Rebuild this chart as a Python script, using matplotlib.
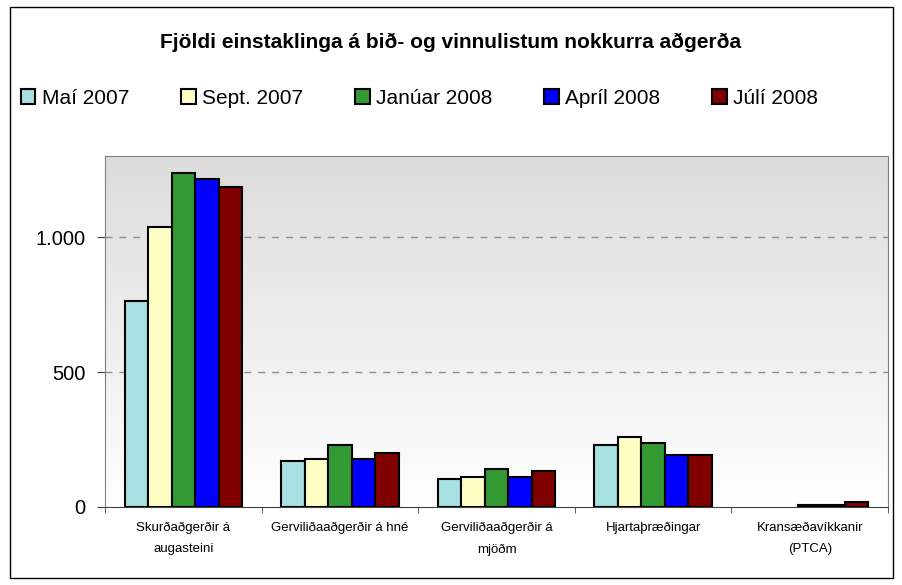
import matplotlib
matplotlib.use('Agg')
import matplotlib.pyplot as plt
import matplotlib.patches as patches
import numpy as np

plt.rcParams['font.family'] = ['Liberation Sans', 'DejaVu Sans']

# Gögn
flokkar = ['Skurðaðgerðir á\naugasteini', 'Gerviliðaaðgerðir á hné',
           'Gerviliðaaðgerðir á\nmjöðm', 'Hjartaþræðingar',
           'Kransæðavíkkanir\n(PTCA)']
timabil = ['Maí 2007', 'Sept. 2007', 'Janúar 2008', 'Apríl 2008', 'Júlí 2008']
mai_2007 = [763, 170, 104, 230, np.nan]
sept_2007 = [1038, 178, 111, 261, np.nan]
jan_2008 = [1238, 230, 141, 237, 7]
apr_2008 = [1215, 178, 111, 194, 7]
jul_2008 = [1186, 200, 133, 194, 17]
litir = ['#A6E0E0', '#FFFFC4', '#339933', '#0000FF', '#800000']

reikningar = [mai_2007, sept_2007, jan_2008, apr_2008, jul_2008]

fig = plt.figure(figsize=(9.02, 5.85), dpi=100)
ax = fig.add_axes([105/902, 78/585, 783/902, 351/585])

# hallandi bakgrunnur
grad = np.linspace(0, 1, 256).reshape(-1, 1)
ax.imshow(grad, extent=[0, 1, 0, 1], transform=ax.transAxes, aspect='auto',
          cmap=matplotlib.colors.LinearSegmentedColormap.from_list('g', ['#FFFFFF', '#DCDCDC']),
          origin='lower', zorder=0)

x = np.arange(len(flokkar))
b = 0.15
for i, (vals, lit, nafn) in enumerate(zip(reikningar, litir, timabil)):
    ax.bar(x + (i - 2) * b, vals, width=b, color=lit, edgecolor='black',
           linewidth=1.5, label=nafn, zorder=3)

ax.set_xlim(-0.5, len(flokkar) - 0.5)
ax.set_ylim(0, 1300)
ax.set_yticks([0, 500, 1000])
ax.set_yticklabels(['0', '500', '1.000'], fontsize=14.5)
for v in [500, 1000]:
    ax.axhline(v, color='#909090', linestyle=(0, (5, 5)), linewidth=1, zorder=1)

ax.set_xticks(x)
ax.set_xticklabels(flokkar, fontsize=9.5, linespacing=2.0)
ax.tick_params(axis='x', length=0, pad=11)
ax.set_xticks(np.arange(-0.5, len(flokkar)), minor=True)
ax.tick_params(axis='x', which='minor', length=4, color='#404040')
ax.tick_params(axis='y', length=6, color='#404040', pad=8)

for s in ['left', 'top', 'right']:
    ax.spines[s].set_color('#808080')
ax.spines['bottom'].set_color('#404040')

fig.text(451/902, 1 - 42/585, 'Fjöldi einstaklinga á bið- og vinnulistum nokkurra aðgerða',
         ha='center', va='center', fontsize=15, fontweight='bold')

fig.legend(loc='center left', bbox_to_anchor=(2/902, 1 - 98/585), ncol=5,
           frameon=False, fontsize=15, handlelength=0.7, handleheight=0.7,
           handletextpad=0.3, columnspacing=2.5)

fig.patches.append(patches.Rectangle((10/902, 7/585), 883/902, 571/585,
                                     transform=fig.transFigure, fill=False,
                                     edgecolor='black', linewidth=1))

fig.savefig('out.png', dpi=100)
